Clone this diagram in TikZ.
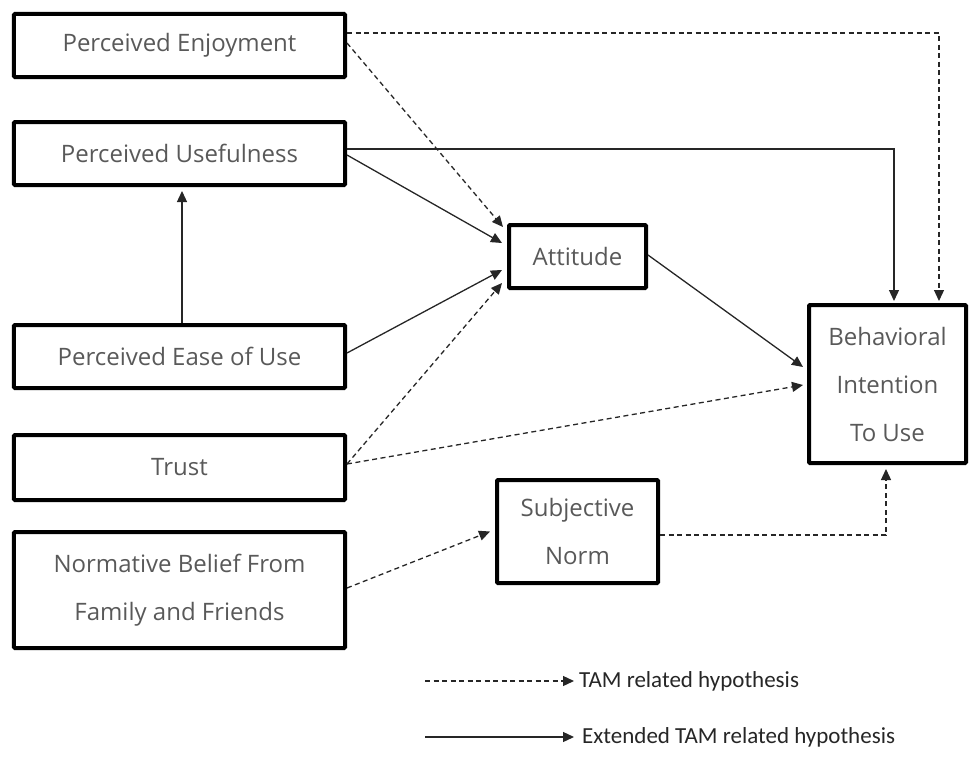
\documentclass[tikz,border=0pt]{standalone}
\usepackage{fontspec}
\setmainfont{Open Sans}
\newfontfamily\legendfont{Carlito}
\usetikzlibrary{arrows.meta}

\begin{document}
\begin{tikzpicture}[x=1bp, y=-1bp,
  factor/.style={draw=black, line width=4bp, rounded corners=1bp, text=black!65, align=center, inner sep=0pt, font=\fontsize{24bp}{48bp}\selectfont},
  ext/.style={line width=1.3bp, draw=black!85, -{Triangle[length=11bp,width=10bp]}},
  tam/.style={ext, dash pattern=on 5bp off 3.5bp},
  legend/.style={anchor=west, inner sep=0pt, text=black!85, font=\legendfont\fontsize{23bp}{28bp}\selectfont}]
\useasboundingbox (0,0) rectangle (969,760);
\node[factor, minimum width=331bp, minimum height=63bp] (enjoy) at (179.5,45.5) {Perceived Enjoyment};
\node[factor, minimum width=331bp, minimum height=63bp] (useful) at (179.5,153.5) {Perceived Usefulness};
\node[factor, minimum width=331bp, minimum height=63bp] (ease) at (179.5,356.5) {Perceived Ease of Use};
\node[factor, minimum width=331bp, minimum height=65bp] (trust) at (179.5,467.5) {Trust};
\node[factor, minimum width=331bp, minimum height=116bp] (belief) at (179.5,590) {Normative Belief From\\Family and Friends};
\node[factor, minimum width=137bp, minimum height=63bp] (attitude) at (577.5,256.5) {Attitude};
\node[factor, minimum width=161bp, minimum height=103bp] (norm) at (577.5,531.5) {Subjective\\Norm};
\node[factor, minimum width=157bp, minimum height=158bp] (intent) at (887.5,384) {Behavioral\\Intention\\To Use};
\draw[tam] ([yshift=12.5bp]enjoy.east) -| ([xshift=51.5bp,yshift=2bp]intent.north);
\draw[tam] ([yshift=2.5bp]enjoy.east) -- ([xshift=-4bp,yshift=29.5bp]attitude.west);
\draw[ext] ([yshift=4.5bp]useful.east) -| ([xshift=6.5bp,yshift=2bp]intent.north);
\draw[ext] ([yshift=-1.5bp]useful.east) -- ([xshift=-5bp,yshift=13.5bp]attitude.west);
\draw[ext] ([xshift=2.5bp]ease.north) -- ([xshift=2.5bp,yshift=-4bp]useful.south);
\draw[ext] ([yshift=3.5bp]ease.east) -- ([xshift=-5bp,yshift=-13.5bp]attitude.west);
\draw[tam] ([yshift=3.5bp]trust.east) -- ([xshift=-5bp,yshift=-26.5bp]attitude.west);
\draw[tam] ([yshift=3.5bp]trust.east) -- ([xshift=-4bp,yshift=-1bp]intent.west);
\draw[ext] ([yshift=1.5bp]attitude.east) -- ([xshift=-4bp,yshift=17bp]intent.west);
\draw[tam] ([yshift=2bp]belief.east) -- ([xshift=-5bp]norm.west);
\draw[tam] ([yshift=-3.5bp]norm.east) -| ([xshift=-1.5bp,yshift=-4bp]intent.south);
\coordinate (tamstart) at (425,681);
\coordinate (tamend) at (574,681);
\coordinate (extstart) at (425,737);
\coordinate (extend) at (574,737);
\draw[tam] (tamstart) -- (tamend);
\draw[ext] (extstart) -- (extend);
\node[legend] (tamtext) at ([xshift=5bp]tamend) {TAM related hypothesis};
\node[legend] (exttext) at ([xshift=8bp]extend) {Extended TAM related hypothesis};
\end{tikzpicture}
\end{document}
